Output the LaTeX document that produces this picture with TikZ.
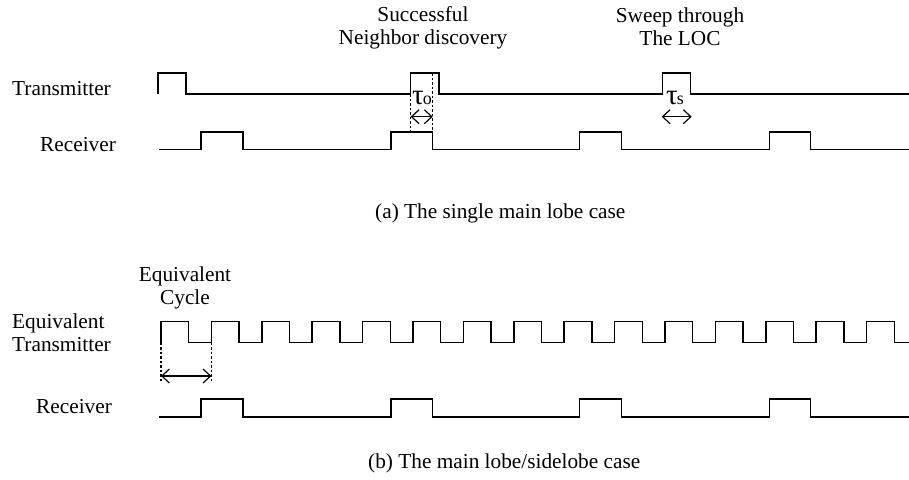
\documentclass[tikz,border=0pt]{standalone}
\usepackage{fontspec}
\setmainfont{Liberation Serif}
\usetikzlibrary{arrows.meta}

\begin{document}
\begin{tikzpicture}[x=1pt,y=-1pt,
  wave/.style={line width=1.5pt, line join=miter},
  guide/.style={line width=1.1pt, dash pattern=on 2.5pt off 2pt},
  span/.style={line width=1.2pt,
    {Straight Barb[length=7.5pt,width=14pt]}-{Straight Barb[length=7.5pt,width=14pt]}},
  lbl/.style={inner sep=0pt, font=\fontsize{21.3}{23.5}\selectfont},
  tau/.style={inner sep=0pt, font=\fontsize{29}{30}\selectfont},
]
\useasboundingbox (0,0) rectangle (909,479);

% ---------- (a) single main lobe ----------
\node[lbl, anchor=base west] (txa) at (12,95) {Transmitter};
\node[lbl, anchor=base west] (rxa) at (40,151) {Receiver};
\node[lbl, anchor=base] (succ) at (423,21)
  {\begin{tabular}[t]{@{}c@{}}Successful\\Neighbor discovery\end{tabular}};
\node[lbl, anchor=base] (sweep) at (680,22)
  {\begin{tabular}[t]{@{}c@{}}Sweep through\\The LOC\end{tabular}};

% transmitter beam
\draw[wave] (158,94) -- (158,73) -- (186,73) -- (186,94)
  -- (410.7,94) -- (410.7,73) -- (439,73) -- (439,94)
  -- (662.7,94) -- (662.7,73) -- (690.7,73) -- (690.7,94) -- (909,94);

% receiver beam
\draw[wave] (158.7,149.7)
  \foreach \r/\f in {201/243, 391/432.7, 579.5/621.6, 769.5/810.7}
    { -- (\r,149.7) -- (\r,132) -- (\f,132) -- (\f,149.7) }
  -- (909,149.7);

% overlap window
\coordinate (ovL) at (410.7,116.7);
\coordinate (ovR) at (432.7,116.7);
\draw[guide] (410.7,94) -- (410.7,132);
\draw[guide] (432.7,73) -- (432.7,132);
\draw[span] (ovL) -- (ovR);
\node[tau, anchor=base west] (tauo) at (412,104)
  {τ\kern-1pt{\fontsize{18}{18}\selectfont o}};

% sweep duration
\coordinate (swL) at (661.7,116.7);
\coordinate (swR) at (691.7,116.7);
\draw[span] (swL) -- (swR);
\node[tau, anchor=base west] (taus) at (666,104)
  {τ\kern-1pt{\fontsize{18}{18}\selectfont s}};

\node[lbl, anchor=base west] (capa) at (375,218) {(a) The single main lobe case};

% ---------- (b) main lobe / sidelobe ----------
\node[lbl, anchor=base] (eqc) at (185,281)
  {\begin{tabular}[t]{@{}c@{}}Equivalent\\Cycle\end{tabular}};
\node[lbl, anchor=base west] (eqt) at (12,328)
  {\begin{tabular}[t]{@{}l@{}}Equivalent\\Transmitter\end{tabular}};
\node[lbl, anchor=base west] (rxb) at (36,413) {Receiver};

% equivalent transmitter
\draw[wave] (161,342.7)
  \foreach \k in {0,...,14}
    { -- ({161+50.4*\k},342.7) -- ({161+50.4*\k},321.7)
      -- ({188.7+50.4*\k},321.7) -- ({188.7+50.4*\k},342.7) }
  -- (909,342.7);

% receiver beam
\draw[wave] (158.7,417)
  \foreach \r/\f in {201/243, 391/432.7, 579.5/621.6, 769.5/810.7}
    { -- (\r,417) -- (\r,399) -- (\f,399) -- (\f,417) }
  -- (909,417);

% one equivalent cycle
\coordinate (cyL) at (161,376);
\coordinate (cyR) at (211.4,376);
\draw[guide] (161,342.7) -- (161,381);
\draw[guide] (211.4,342.7) -- (211.4,381);
\draw[span] (cyL) -- (cyR);

\node[lbl, anchor=base west] (capb) at (368,468) {(b) The main lobe/sidelobe case};
\end{tikzpicture}
\end{document}
